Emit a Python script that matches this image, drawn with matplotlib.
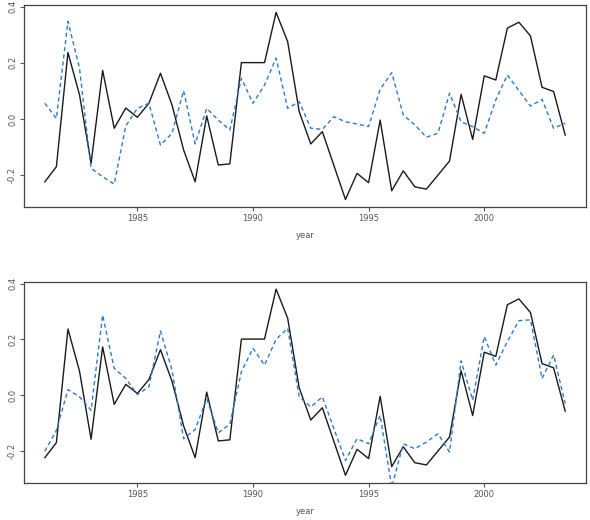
import numpy as np
import matplotlib
matplotlib.use("Agg")
import matplotlib.pyplot as plt

# semi-annual observations 1981.0 .. 2003.5
year = np.arange(1981.0, 2004.0, 0.5)

actual = [-0.224, -0.17, 0.237, 0.086, -0.158, 0.173, -0.033, 0.039, 0.006, 0.056,
          0.163, 0.05, -0.11, -0.224, 0.011, -0.164, -0.16, 0.201, 0.201, 0.201,
          0.38, 0.276, 0.026, -0.089, -0.045, -0.166, -0.287, -0.194, -0.227, -0.004,
          -0.256, -0.185, -0.242, -0.25, -0.2, -0.15, 0.088, -0.073, 0.154, 0.139,
          0.324, 0.345, 0.296, 0.113, 0.098, -0.057]

fit_top = [0.056, 0.002, 0.348, 0.181, -0.176, -0.206, -0.232, -0.025, 0.038, 0.056,
           -0.093, -0.051, 0.101, -0.089, 0.038, -0.004, -0.039, 0.145, 0.056, 0.121,
           0.217, 0.038, 0.062, -0.033, -0.037, 0.008, -0.01, -0.018, -0.027, 0.106,
           0.165, 0.014, -0.021, -0.065, -0.051, 0.092, -0.01, -0.027, -0.051, 0.068,
           0.157, 0.101, 0.046, 0.07, -0.033, -0.015]

fit_bottom = [-0.201, -0.126, 0.02, -0.006, -0.054, 0.287, 0.096, 0.06, 0.002, 0.03,
              0.23, 0.09, -0.156, -0.123, -0.012, -0.135, -0.104, 0.084, 0.168, 0.108,
              0.2, 0.24, -0.006, -0.042, -0.006, -0.12, -0.234, -0.156, -0.174, -0.072,
              -0.33, -0.174, -0.192, -0.168, -0.138, -0.204, 0.123, -0.018, 0.21, 0.108,
              0.192, 0.267, 0.27, 0.06, 0.144, -0.03]

blue = "#2b7bcc"
fig = plt.figure(figsize=(5.9, 5.2), dpi=100)
positions = [[0.0407, 0.602, 0.9525, 0.3885], [0.0407, 0.0717, 0.9525, 0.3866]]

for pos, fit in zip(positions, [fit_top, fit_bottom]):
    ax = fig.add_axes(pos)
    ax.plot(year, actual, color="#1a1a1a", lw=1.0)
    ax.plot(year, fit, color=blue, lw=1.0, ls=(0, (3, 2.2)))
    # R style 4% padding based on the first series
    xr = year[-1] - year[0]
    ax.set_xlim(year[0] - 0.04 * xr, year[-1] + 0.04 * xr)
    lo, hi = min(actual), max(actual)
    ax.set_ylim(lo - 0.04 * (hi - lo), hi + 0.04 * (hi - lo))
    ax.set_xticks([1985, 1990, 1995, 2000])
    ax.set_yticks([-0.2, 0.0, 0.2, 0.4])
    ax.set_yticklabels(["-0.2", "0.0", "0.2", "0.4"], rotation=90, va="center")
    ax.tick_params(labelsize=6, colors="#555555", length=3, width=0.8, pad=2)
    for s in ax.spines.values():
        s.set_color("#444444")
        s.set_linewidth(0.9)
    ax.set_xlabel("year", fontsize=6, color="#555555", labelpad=6)

fig.savefig("out.png")
